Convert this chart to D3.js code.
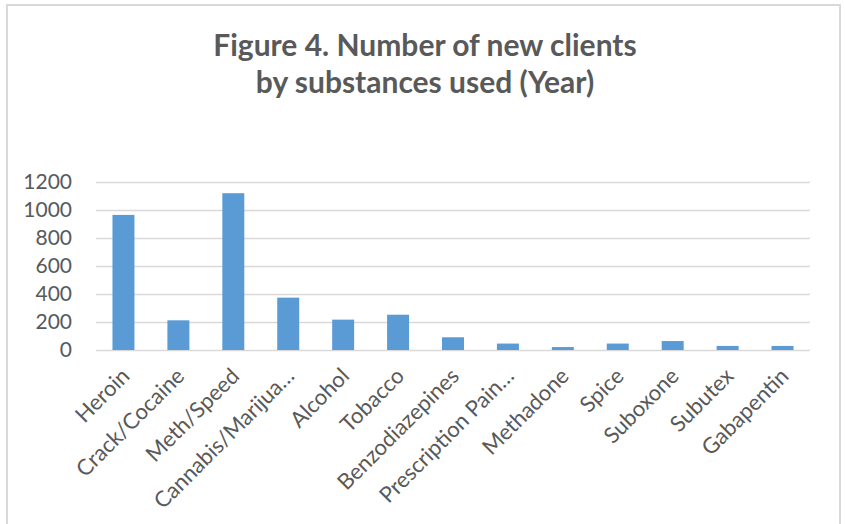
<!DOCTYPE html>
<html>
<head>
<meta charset="utf-8">
<script src="https://cdn.jsdelivr.net/npm/d3@7"></script>
<style>
  body { margin: 0; background: #fff; }
  svg text { font-family: Lato, "Open Sans", sans-serif; fill: #595959; }
</style>
</head>
<body>
<script>
const substances = [
  "Heroin", "Crack/Cocaine", "Meth/Speed", "Cannabis/Marijua\u2026", "Alcohol",
  "Tobacco", "Benzodiazepines", "Prescription Pain\u2026", "Methadone", "Spice",
  "Suboxone", "Subutex", "Gabapentin"
];
const newClients = [965, 212, 1120, 374, 217, 252, 91, 46, 21, 46, 64, 29, 29];
const yTicks = [0, 200, 400, 600, 800, 1000, 1200];
const titleLines = ["Figure 4. Number of new clients", "by substances used (Year)"];

const width = 845;
const height = 524;
const plotLeft = 96, plotRight = 810, plotTop = 182, plotBottom = 350;

const svg = d3
  .select("body")
  .append("svg")
  .attr("width", width)
  .attr("height", height);

// chart frame
svg
  .append("rect")
  .attr("x", 7)
  .attr("y", 5)
  .attr("width", 833)
  .attr("height", 540)
  .attr("fill", "none")
  .attr("stroke", "#d9d9d9")
  .attr("stroke-width", 2);

svg
  .selectAll(".title")
  .data(titleLines)
  .enter()
  .append("text")
  .attr("class", "title")
  .attr("x", 425)
  .attr("y", (d, i) => 56 + i * 37)
  .attr("text-anchor", "middle")
  .style("font-size", "30px")
  .style("font-weight", "bold")
  .text((d) => d);

const xScale = d3
  .scaleBand()
  .domain(substances)
  .range([plotLeft, plotRight])
  .paddingInner(0.6)
  .paddingOuter(0.3);

const yScale = d3.scaleLinear().domain([0, 1200]).range([plotBottom, plotTop]);

// gridlines
svg
  .append("g")
  .attr("transform", `translate(${plotLeft}, 0)`)
  .call(d3.axisLeft(yScale).tickValues(yTicks).tickSize(-(plotRight - plotLeft)).tickFormat(""))
  .call((g) => g.select(".domain").remove())
  .call((g) => g.selectAll("line").attr("stroke", "#d9d9d9").attr("stroke-width", 1.5));

// y labels
svg
  .append("g")
  .attr("transform", `translate(${plotLeft}, 0)`)
  .call(d3.axisLeft(yScale).tickValues(yTicks).tickSize(0).tickPadding(24).tickFormat(d3.format("d")))
  .call((g) => g.select(".domain").remove())
  .call((g) => g.selectAll("text").style("font-size", "21px").attr("fill", "#595959"));

svg
  .selectAll(".bar")
  .data(substances)
  .enter()
  .append("rect")
  .attr("class", "bar")
  .attr("x", (d) => xScale(d))
  .attr("y", (d, i) => yScale(newClients[i]))
  .attr("width", xScale.bandwidth())
  .attr("height", (d, i) => plotBottom - yScale(newClients[i]))
  .attr("fill", "#5b9bd5");

// x labels rotated
svg
  .selectAll(".xlabel")
  .data(substances)
  .enter()
  .append("text")
  .attr("class", "xlabel")
  .attr("text-anchor", "end")
  .attr("dy", "0.35em")
  .attr("transform", (d) => `translate(${xScale(d) + xScale.bandwidth() / 2 + 2}, 372) rotate(-45)`)
  .style("font-size", "22px")
  .text((d) => d);
</script>
</body>
</html>
